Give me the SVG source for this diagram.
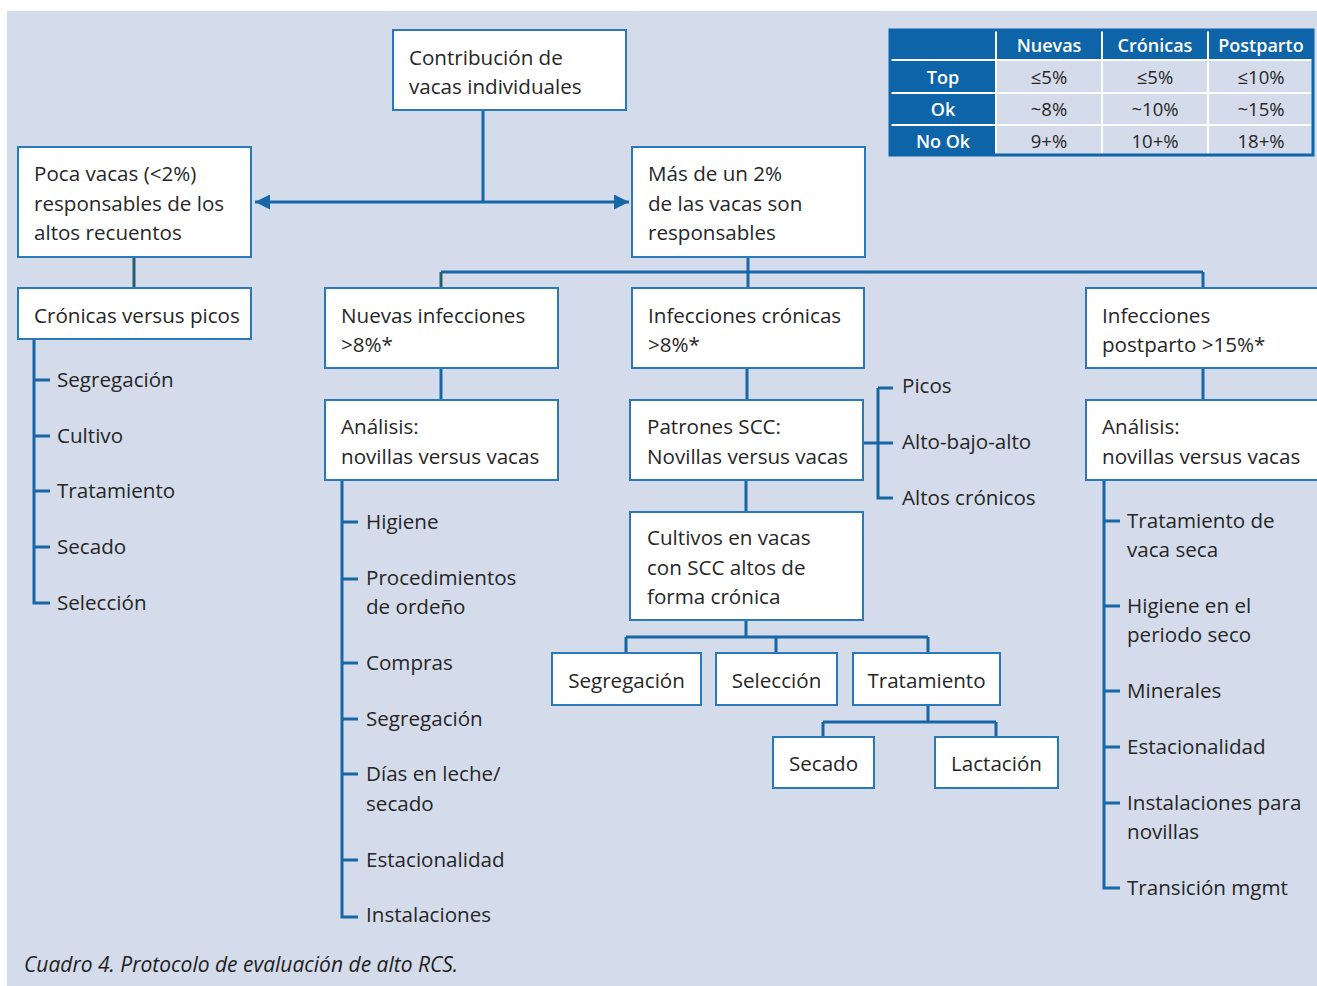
<svg xmlns="http://www.w3.org/2000/svg" width="1317" height="986" viewBox="0 0 1317 986">
<style>
.bg{fill:#d4dbea}
.box{fill:#ffffff;stroke:#2a79b9;stroke-width:2}
.ln{fill:none;stroke:#1766a6;stroke-width:3}
.dk{fill:none;stroke:#285f6e;stroke-width:3}
.t{font-family:"Open Sans","Liberation Sans",sans-serif;font-size:20.6px;fill:#262626}
.c{text-anchor:middle}
.th{font-family:"Open Sans","Liberation Sans",sans-serif;font-size:18px;font-weight:600;fill:#ffffff;text-anchor:middle}
.td{font-family:"Open Sans","Liberation Sans",sans-serif;font-size:18.5px;fill:#262626;text-anchor:middle}
.cap{font-family:"Open Sans","Liberation Sans",sans-serif;font-size:21px;font-style:italic;fill:#1f1f1f}
</style>
<defs>
<marker id="ah" viewBox="0 0 10 10" refX="10" refY="5" markerWidth="6" markerHeight="5" markerUnits="strokeWidth" orient="auto">
<path d="M0,0 L10,5 L0,10 z" fill="#1766a6"/>
</marker>
</defs>
<rect x="0" y="0" width="1317" height="986" fill="#ffffff"/>
<rect class="bg" x="7" y="11" width="1310" height="975"/>

<g id="connectors">
<path class="ln" d="M483,110 V202"/>
<path class="ln" d="M483,202 H255" marker-end="url(#ah)"/>
<path class="ln" d="M483,202 H629" marker-end="url(#ah)"/>
<path class="dk" d="M134,257 V288"/>
<path class="ln" d="M34,339 V603 H50 M34,380 H50 M34,436 H50 M34,491 H50 M34,547 H50"/>
<path class="ln" d="M748,257 V272 M441,272 H1203 M748,272 V288 M1203,272 V288"/>
<path class="dk" d="M441,272 V288"/>
<path class="ln" d="M441,368 V400"/>
<path class="ln" d="M342,480 V917 H358 M342,522 H358 M342,579 H358 M342,663 H358 M342,719 H358 M342,774 H358 M342,860 H358"/>
<path class="ln" d="M747,368 V400"/>
<path class="ln" d="M863,443 H893 M878,388 H893 M878,388 V498 H893"/>
<path class="ln" d="M746,480 V512"/>
<path class="ln" d="M746,620 V637 M626,637 H928 M626,637 V653 M776,637 V653 M928,637 V653"/>
<path class="ln" d="M928,705 V722 M823,722 H996 M823,722 V737 M996,722 V737"/>
<path class="ln" d="M1203,368 V400"/>
<path class="ln" d="M1104,480 V888 H1120 M1104,521 H1120 M1104,606 H1120 M1104,691 H1120 M1104,747 H1120 M1104,803 H1120"/>
</g>

<g id="n-contribucion">
<rect class="box" x="393" y="30" width="233" height="80"/>
<text class="t" x="409" y="65">Contribución de</text>
<text class="t" x="409" y="94">vacas individuales</text>
</g>

<g id="n-poca">
<rect class="box" x="18" y="147" width="233" height="110"/>
<text class="t" x="34" y="181">Poca vacas (&lt;2%)</text>
<text class="t" x="34" y="211">responsables de los</text>
<text class="t" x="34" y="240">altos recuentos</text>
</g>

<g id="n-mas">
<rect class="box" x="632" y="147" width="233" height="110"/>
<text class="t" x="648" y="181">Más de un 2%</text>
<text class="t" x="648" y="211">de las vacas son</text>
<text class="t" x="648" y="240">responsables</text>
</g>

<g id="n-cronicas-picos">
<rect class="box" x="18" y="288" width="233" height="51"/>
<text class="t" x="34" y="323">Crónicas versus picos</text>
</g>

<g id="n-lista-izq">
<text class="t" x="57" y="387">Segregación</text>
<text class="t" x="57" y="443">Cultivo</text>
<text class="t" x="57" y="498">Tratamiento</text>
<text class="t" x="57" y="554">Secado</text>
<text class="t" x="57" y="610">Selección</text>
</g>

<g id="n-nuevas">
<rect class="box" x="325" y="288" width="233" height="80"/>
<text class="t" x="341" y="323">Nuevas infecciones</text>
<text class="t" x="341" y="352">&gt;8%*</text>
</g>

<g id="n-analisis1">
<rect class="box" x="325" y="400" width="233" height="80"/>
<text class="t" x="341" y="434">Análisis:</text>
<text class="t" x="341" y="464">novillas versus vacas</text>
</g>

<g id="n-lista-medio">
<text class="t" x="366" y="529">Higiene</text>
<text class="t" x="366" y="585">Procedimientos</text>
<text class="t" x="366" y="614">de ordeño</text>
<text class="t" x="366" y="670">Compras</text>
<text class="t" x="366" y="726">Segregación</text>
<text class="t" x="366" y="781">Días en leche/</text>
<text class="t" x="366" y="811">secado</text>
<text class="t" x="366" y="867">Estacionalidad</text>
<text class="t" x="366" y="922">Instalaciones</text>
</g>

<g id="n-infcronicas">
<rect class="box" x="632" y="288" width="232" height="80"/>
<text class="t" x="648" y="323">Infecciones crónicas</text>
<text class="t" x="648" y="352">&gt;8%*</text>
</g>

<g id="n-patrones">
<rect class="box" x="630" y="400" width="233" height="80"/>
<text class="t" x="647" y="434">Patrones SCC:</text>
<text class="t" x="647" y="464">Novillas versus vacas</text>
</g>

<g id="n-picos">
<text class="t" x="902" y="393">Picos</text>
<text class="t" x="902" y="449">Alto-bajo-alto</text>
<text class="t" x="902" y="505">Altos crónicos</text>
</g>

<g id="n-cultivos">
<rect class="box" x="630" y="512" width="233" height="108"/>
<text class="t" x="647" y="545">Cultivos en vacas</text>
<text class="t" x="647" y="575">con SCC altos de</text>
<text class="t" x="647" y="604">forma crónica</text>
</g>

<g id="n-segregacion">
<rect class="box" x="552" y="653" width="149" height="52"/>
<text class="t c" x="626.5" y="688">Segregación</text>
</g>
<g id="n-seleccion">
<rect class="box" x="716" y="653" width="121" height="52"/>
<text class="t c" x="776.5" y="688">Selección</text>
</g>
<g id="n-tratamiento">
<rect class="box" x="853" y="653" width="147" height="52"/>
<text class="t c" x="926.5" y="688">Tratamiento</text>
</g>
<g id="n-secado">
<rect class="box" x="773" y="737" width="101" height="51"/>
<text class="t c" x="823.5" y="771">Secado</text>
</g>
<g id="n-lactacion">
<rect class="box" x="935" y="737" width="123" height="51"/>
<text class="t c" x="996.5" y="771">Lactación</text>
</g>

<g id="n-postparto">
<rect class="box" x="1086" y="288" width="240" height="80"/>
<text class="t" x="1102" y="323">Infecciones</text>
<text class="t" x="1102" y="352">postparto &gt;15%*</text>
</g>

<g id="n-analisis2">
<rect class="box" x="1086" y="400" width="240" height="80"/>
<text class="t" x="1102" y="434">Análisis:</text>
<text class="t" x="1102" y="464">novillas versus vacas</text>
</g>

<g id="n-lista-der">
<text class="t" x="1127" y="528">Tratamiento de</text>
<text class="t" x="1127" y="557">vaca seca</text>
<text class="t" x="1127" y="613">Higiene en el</text>
<text class="t" x="1127" y="642">periodo seco</text>
<text class="t" x="1127" y="698">Minerales</text>
<text class="t" x="1127" y="754">Estacionalidad</text>
<text class="t" x="1127" y="810">Instalaciones para</text>
<text class="t" x="1127" y="839">novillas</text>
<text class="t" x="1127" y="895">Transición mgmt</text>
</g>

<g id="tabla">
<rect x="890" y="30" width="423" height="125" fill="#d4dbea"/>
<rect x="890" y="30" width="423" height="30" fill="#0d64a8"/>
<rect x="890" y="30" width="106" height="125" fill="#0d64a8"/>
<path d="M996,30 V155 M1102,30 V155 M1208,30 V155 M890,60 H1313 M890,93 H1313 M890,125 H1313" stroke="#ffffff" stroke-width="2" fill="none"/>
<rect x="890" y="30" width="423" height="125" fill="none" stroke="#0d64a8" stroke-width="3"/>
<text class="th" x="1049" y="52">Nuevas</text>
<text class="th" x="1155" y="52">Crónicas</text>
<text class="th" x="1261" y="52">Postparto</text>
<text class="th" x="943" y="84">Top</text>
<text class="th" x="943" y="116">Ok</text>
<text class="th" x="943" y="148">No Ok</text>
<text class="td" x="1049" y="84">≤5%</text>
<text class="td" x="1155" y="84">≤5%</text>
<text class="td" x="1261" y="84">≤10%</text>
<text class="td" x="1049" y="116">~8%</text>
<text class="td" x="1155" y="116">~10%</text>
<text class="td" x="1261" y="116">~15%</text>
<text class="td" x="1049" y="148">9+%</text>
<text class="td" x="1155" y="148">10+%</text>
<text class="td" x="1261" y="148">18+%</text>
</g>

<text class="cap" x="24" y="972">Cuadro 4. Protocolo de evaluación de alto RCS.</text>
</svg>
